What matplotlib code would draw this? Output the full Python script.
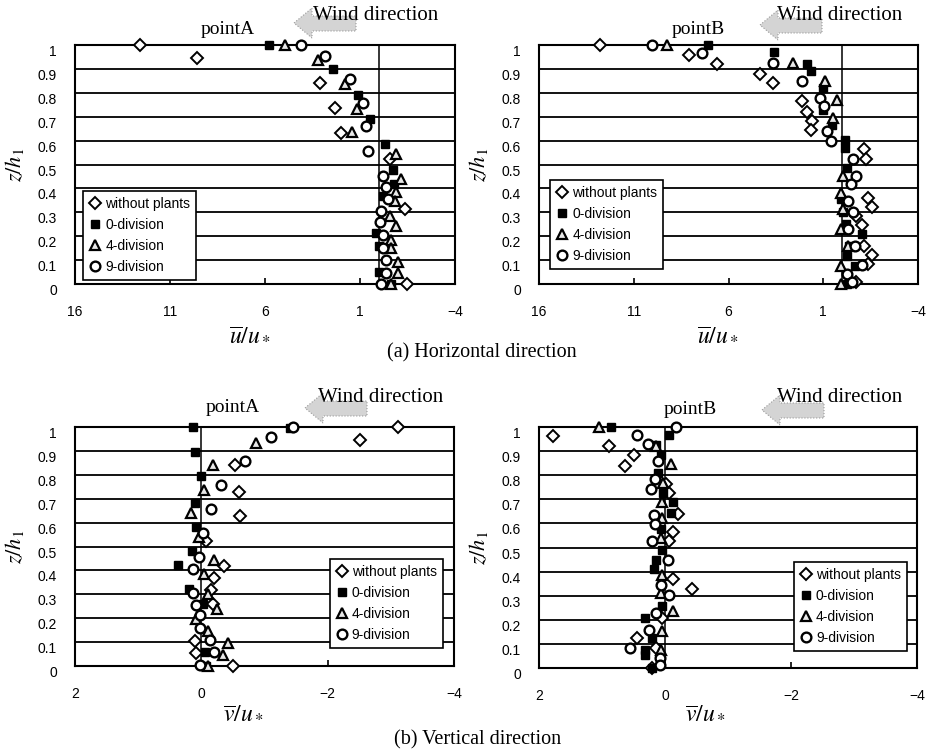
import matplotlib
matplotlib.use("Agg")
import matplotlib.pyplot as plt
from matplotlib.patches import Polygon
import matplotlib.transforms as mtransforms

plt.rcParams["mathtext.fontset"] = "stix"

# ── Data (x value, z/h1) ──────────────────────────────────────────────────────

# (a) horizontal, pointA
ua_plain_x = [12.6, 9.56, 3.12, 2.3, 1.98, -0.56, -1.35, -1.49]
ua_plain_z = [1.0, 0.945, 0.84, 0.737, 0.63, 0.523, 0.315, 0.0]
ua_div0_x = [5.8, 2.42, 1.1, 0.49, -0.3, -0.74, -0.79, -0.21, 0.14, 0.02, 0.02, -0.65]
ua_div0_z = [1.0, 0.9, 0.79, 0.69, 0.584, 0.478, 0.418, 0.368, 0.214, 0.158, 0.052, 0.0]
ua_div4_x = [4.93, 3.21, 1.77, 1.14, 1.42, -0.91, -1.17, -0.91, -0.82, -0.56, -0.91, -0.65, -0.65, -1.0, -1.0, -0.65]
ua_div4_z = [1.0, 0.938, 0.835, 0.734, 0.638, 0.544, 0.439, 0.385, 0.347, 0.284, 0.242, 0.186, 0.151, 0.094, 0.045, 0.0]
ua_div9_x = [4.12, 2.86, 1.54, 0.84, 0.67, 0.58, -0.21, -0.39, -0.47, -0.12, -0.04, -0.21, -0.21, -0.39, -0.39, -0.12]
ua_div9_z = [1.0, 0.952, 0.857, 0.759, 0.66, 0.558, 0.453, 0.404, 0.354, 0.305, 0.259, 0.207, 0.151, 0.101, 0.048, 0.0]

# (a) horizontal, pointB
ub_plain_x = [12.8, 8.07, 6.61, 4.33, 3.63, 2.14, 1.88, 1.62, 1.67, -1.16, -1.28, -1.37, -1.58, -0.75, -1.02, -1.16, -1.58, -1.37, -0.75]
ub_plain_z = [1.0, 0.96, 0.92, 0.88, 0.843, 0.764, 0.72, 0.68, 0.643, 0.565, 0.524, 0.361, 0.324, 0.285, 0.246, 0.16, 0.121, 0.083, 0.01]
ub_div0_x = [7.09, 3.58, 1.88, 1.67, 1.0, 1.03, 0.56, -0.14, -0.14, -0.23, 0.04, -0.05, -0.2, -1.02, -0.35, -0.23, -0.67, -0.23]
ub_div0_z = [1.0, 0.97, 0.92, 0.89, 0.82, 0.73, 0.667, 0.604, 0.57, 0.486, 0.354, 0.3, 0.25, 0.208, 0.16, 0.118, 0.076, 0.0]
ub_div4_x = [9.25, 2.58, 0.91, 0.3, 0.47, -0.05, 0.04, -0.05, 0.04, -0.3, 0.04, 0.04]
ub_div4_z = [1.0, 0.926, 0.85, 0.77, 0.695, 0.45, 0.38, 0.3125, 0.23, 0.16, 0.076, 0.0]
ub_div9_x = [10.04, 7.4, 3.63, 2.1, 1.17, 0.95, 0.82, 0.59, -0.58, -0.75, -0.46, -0.32, -0.58, -0.32, -0.67, -1.02, -0.23, -0.5]
ub_div9_z = [1.0, 0.968, 0.926, 0.85, 0.78, 0.743, 0.639, 0.597, 0.524, 0.451, 0.417, 0.347, 0.30, 0.229, 0.16, 0.079, 0.04, 0.01]

# (b) vertical, pointA
va_plain_x = [-3.12, -2.51, -0.54, -0.6, -0.62, -0.08, -0.36, -0.2, -0.15, -0.18, 0.1, 0.09, -0.5]
va_plain_z = [1.0, 0.944, 0.84, 0.73, 0.628, 0.523, 0.417, 0.368, 0.32, 0.261, 0.103, 0.056, 0.0]
va_div0_x = [0.13, -1.40, 0.1, 0.0, 0.1, 0.08, 0.14, 0.37, 0.19, -0.03, -0.06, -0.08]
va_div0_z = [1.0, 0.995, 0.895, 0.795, 0.684, 0.582, 0.48, 0.424, 0.324, 0.261, 0.059, 0.0]
va_div4_x = [-0.86, -0.18, -0.04, 0.16, 0.04, -0.2, -0.04, -0.11, -0.25, 0.09, -0.11, -0.43, -0.35, -0.11]
va_div4_z = [0.933, 0.84, 0.735, 0.642, 0.54, 0.442, 0.387, 0.303, 0.237, 0.195, 0.145, 0.098, 0.048, 0.0]
va_div9_x = [-1.45, -1.11, -0.69, -0.31, -0.16, -0.03, 0.04, 0.13, 0.13, 0.09, 0.02, 0.02, -0.13, -0.2, 0.02]
va_div9_z = [1.0, 0.958, 0.857, 0.759, 0.658, 0.558, 0.456, 0.405, 0.307, 0.257, 0.212, 0.159, 0.108, 0.059, 0.003]

# (b) vertical, pointB
vb_plain_x = [1.78, 0.89, 0.5, 0.64, -0.01, -0.06, -0.21, -0.12, -0.06, -0.13, -0.43, 0.04, 0.44, 0.14, 0.2]
vb_plain_z = [0.961, 0.92, 0.882, 0.837, 0.763, 0.726, 0.639, 0.564, 0.525, 0.369, 0.328, 0.207, 0.124, 0.083, 0.0]
vb_div0_x = [0.85, -0.06, 0.15, 0.07, 0.11, 0.03, -0.13, -0.09, 0.07, 0.04, 0.15, 0.17, 0.04, 0.31, 0.21, 0.32, 0.32, 0.2]
vb_div0_z = [1.0, 0.968, 0.924, 0.885, 0.809, 0.726, 0.689, 0.643, 0.578, 0.491, 0.449, 0.412, 0.256, 0.207, 0.124, 0.076, 0.052, 0.0]
vb_div4_x = [1.04, 0.15, -0.09, 0.03, 0.04, 0.04, 0.07, 0.05, 0.07, -0.13, 0.05, 0.07]
vb_div4_z = [1.0, 0.92, 0.846, 0.768, 0.689, 0.622, 0.539, 0.387, 0.311, 0.235, 0.155, 0.076]
vb_div9_x = [-0.18, 0.45, 0.27, 0.11, 0.16, 0.23, 0.18, 0.16, 0.21, -0.04, 0.07, -0.07, 0.15, 0.25, 0.55, 0.08, 0.08]
vb_div9_z = [1.0, 0.965, 0.929, 0.86, 0.784, 0.744, 0.636, 0.597, 0.528, 0.449, 0.346, 0.304, 0.228, 0.159, 0.083, 0.041, 0.011]

series_labels = ["without plants", "0-division", "4-division", "9-division"]
z_ticks = [0, 0.1, 0.2, 0.3, 0.4, 0.5, 0.6, 0.7, 0.8, 0.9, 1]
u_ticks = [16, 11, 6, 1, -4]
v_ticks = [2, 0, -2, -4]

# ── Styles ────────────────────────────────────────────────────────────────────

STYLES = [
    dict(marker="D", ms=6.2, mfc="white", mec="black", mew=1.4),
    dict(marker="s", ms=6.0, mfc="black", mec="black", mew=1.0),
    dict(marker="^", ms=7.0, mfc="#e8e8e8", mec="black", mew=1.6),
    dict(marker="o", ms=7.0, mfc="white", mec="black", mew=1.7),
]
TICK_FONT = "Liberation Sans"
SERIF = "Liberation Serif"

W, H = 934, 751
fig = plt.figure(figsize=(W / 100, H / 100), dpi=100)


def px_axes(x0, y0, x1, y1):
    return fig.add_axes([x0 / W, 1 - y1 / H, (x1 - x0) / W, (y1 - y0) / H])


def panel(ax, data, xlim, xticks, leg_anchor, leg_loc):
    for y in z_ticks[1:-1]:
        ax.axhline(y, color="black", lw=1.3, zorder=1)
    ax.axvline(0, color="black", lw=1.1, zorder=1)
    for (xs, zs), st, lab in zip(data, STYLES, series_labels):
        ax.plot(xs, zs, ls="none", label=lab, clip_on=False, zorder=3, **st)
    ax.set_xlim(*xlim)
    ax.set_ylim(0, 1)
    ax.set_xticks(xticks)
    ax.set_xticklabels([str(t).replace("-", "−") for t in xticks])
    ax.set_yticks(z_ticks)
    ax.set_yticklabels([f"{t:g}" for t in z_ticks])
    ax.tick_params(axis="x", direction="in", length=4, width=1.2, pad=15,
                   labelsize=10, top=False)
    ax.tick_params(axis="y", length=0, pad=13, labelsize=10)
    for lab in ax.get_xticklabels() + ax.get_yticklabels():
        lab.set_fontfamily(TICK_FONT)
    off = mtransforms.ScaledTranslation(0, -4 / 72, fig.dpi_scale_trans)
    for lab in ax.get_yticklabels():
        lab.set_transform(lab.get_transform() + off)
    for s in ax.spines.values():
        s.set_linewidth(1.5)
    ax.set_ylabel(r"$z/h_1$", fontsize=16, labelpad=8)
    leg = ax.legend(loc=leg_loc, bbox_to_anchor=leg_anchor, fontsize=10,
                    frameon=True, fancybox=False, edgecolor="black",
                    framealpha=1, borderpad=0.45, labelspacing=0.5,
                    handletextpad=0.25, handlelength=0.9, borderaxespad=0)
    leg.get_frame().set_linewidth(1.2)
    for t in leg.get_texts():
        t.set_fontfamily(TICK_FONT)
    leg.set_zorder(5)


def fig_text(x, y, s, **kw):
    fig.text(x / W, 1 - y / H, s, **kw)


def wind(tip_x, tip_y, text_x, text_y):
    pts = [(0, 0), (18, -15), (18, -7), (62, -7), (62, 8), (18, 8), (18, 15)]
    poly = Polygon([((tip_x + dx) / W, 1 - (tip_y + dy) / H) for dx, dy in pts],
                   closed=True, transform=fig.transFigure, facecolor="#d4d4d4",
                   edgecolor="#9a9a9a", lw=0.8, ls=":")
    fig.patches.append(poly)
    fig_text(text_x, text_y, "Wind direction", fontsize=15, family=SERIF,
             ha="left", va="center")


# ── Panels ────────────────────────────────────────────────────────────────────

ax1 = px_axes(75, 45, 455, 284)
panel(ax1, [(ua_plain_x, ua_plain_z), (ua_div0_x, ua_div0_z),
            (ua_div4_x, ua_div4_z), (ua_div9_x, ua_div9_z)],
      (16, -4), u_ticks, (0.021, 0.017), "lower left")

ax2 = px_axes(539, 45, 918, 284)
panel(ax2, [(ub_plain_x, ub_plain_z), (ub_div0_x, ub_div0_z),
            (ub_div4_x, ub_div4_z), (ub_div9_x, ub_div9_z)],
      (16, -4), u_ticks, (0.029, 0.063), "lower left")

ax3 = px_axes(75, 427, 454, 666)
panel(ax3, [(va_plain_x, va_plain_z), (va_div0_x, va_div0_z),
            (va_div4_x, va_div4_z), (va_div9_x, va_div9_z)],
      (2, -4), v_ticks, (0.971, 0.075), "lower right")

ax4 = px_axes(539, 427, 917, 668)
panel(ax4, [(vb_plain_x, vb_plain_z), (vb_div0_x, vb_div0_z),
            (vb_div4_x, vb_div4_z), (vb_div9_x, vb_div9_z)],
      (2, -4), v_ticks, (0.974, 0.07), "lower right")

# ── Figure annotations ────────────────────────────────────────────────────────

for x, y, s in [(228, 30, "pointA"), (698, 29, "pointB"),
                (233, 408, "pointA"), (690, 410, "pointB")]:
    fig_text(x, y, s, fontsize=14, family=SERIF, ha="center", va="center")

wind(294, 23, 313, 15)
wind(760, 25, 777, 15)
wind(305, 408, 318, 398)
wind(762, 410, 777, 398)

fig_text(250, 334, r"$\overline{u}/u_*$", fontsize=17, ha="center", va="center")
fig_text(718, 334, r"$\overline{u}/u_*$", fontsize=17, ha="center", va="center")
fig_text(243, 712, r"$\overline{v}/u_*$", fontsize=17, ha="center", va="center")
fig_text(705, 712, r"$\overline{v}/u_*$", fontsize=17, ha="center", va="center")

fig_text(482, 353, "(a) Horizontal direction", fontsize=14.5, family=SERIF,
         ha="center", va="center")
fig_text(478, 740, "(b) Vertical direction", fontsize=14.5, family=SERIF,
         ha="center", va="center")

fig.savefig("out.png", dpi=100)
